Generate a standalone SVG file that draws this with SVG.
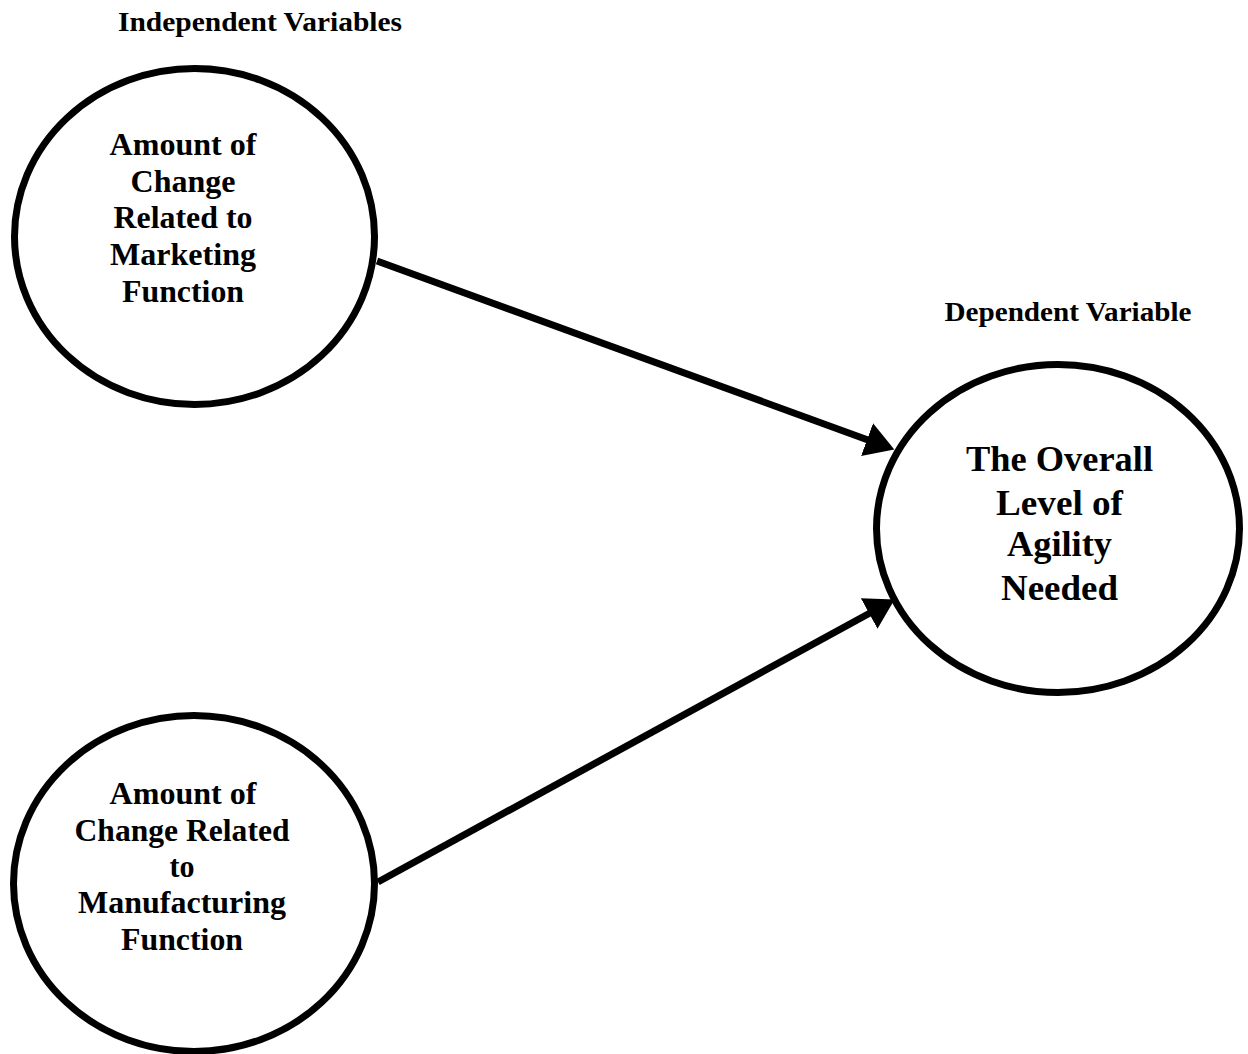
<svg xmlns="http://www.w3.org/2000/svg" width="1248" height="1054" viewBox="0 0 1248 1054">
  <defs>
    <marker id="arrow" markerUnits="userSpaceOnUse" markerWidth="30" markerHeight="36" refX="1" refY="17.5" orient="auto">
      <path d="M0,0 L29,17.5 L0,35 z" fill="#000"/>
    </marker>
    <style>
      .node ellipse { fill: #fff; stroke: #000; stroke-width: 7; }
      text { font-weight: 700; fill: #000; text-anchor: middle; }
      .lbl { font-size: 31px; }
      .big { font-size: 36px; }
      .title { font-size: 28px; }
      .conn line { stroke: #000; stroke-width: 7; }
    </style>
  </defs>
  <rect width="1248" height="1054" fill="#fff"/>

  <g font-family="'Liberation Serif', 'Times New Roman', Tinos, serif">
  <text class="title" x="260" y="31" textLength="284" lengthAdjust="spacingAndGlyphs">Independent Variables</text>
  <text class="title" x="1068" y="321" textLength="247" lengthAdjust="spacingAndGlyphs">Dependent Variable</text>

  <g class="conn" id="connectors">
    <line x1="377" y1="261" x2="868" y2="440" marker-end="url(#arrow)"/>
    <line x1="378" y1="882" x2="870" y2="613" marker-end="url(#arrow)"/>
  </g>

  <g class="node" id="marketing">
    <ellipse cx="194.5" cy="236.5" rx="180" ry="168"/>
    <text class="lbl" x="183" y="155" textLength="147" lengthAdjust="spacingAndGlyphs">Amount of</text>
    <text class="lbl" x="183" y="192" textLength="105" lengthAdjust="spacingAndGlyphs">Change</text>
    <text class="lbl" x="183" y="228" textLength="139" lengthAdjust="spacingAndGlyphs">Related to</text>
    <text class="lbl" x="183" y="265" textLength="146" lengthAdjust="spacingAndGlyphs">Marketing</text>
    <text class="lbl" x="183" y="302" textLength="122" lengthAdjust="spacingAndGlyphs">Function</text>
  </g>

  <g class="node" id="manufacturing">
    <ellipse cx="194" cy="883.5" rx="180.5" ry="168"/>
    <text class="lbl" x="183" y="804" textLength="147" lengthAdjust="spacingAndGlyphs">Amount of</text>
    <text class="lbl" x="182" y="841" textLength="215" lengthAdjust="spacingAndGlyphs">Change Related</text>
    <text class="lbl" x="182" y="877" textLength="25" lengthAdjust="spacingAndGlyphs">to</text>
    <text class="lbl" x="182" y="913" textLength="208" lengthAdjust="spacingAndGlyphs">Manufacturing</text>
    <text class="lbl" x="182" y="950" textLength="122" lengthAdjust="spacingAndGlyphs">Function</text>
  </g>

  <g class="node" id="agility">
    <ellipse cx="1058" cy="528.5" rx="181.5" ry="164"/>
    <text class="big" x="1059.5" y="471" textLength="187" lengthAdjust="spacingAndGlyphs">The Overall</text>
    <text class="big" x="1059.5" y="515" textLength="127" lengthAdjust="spacingAndGlyphs">Level of</text>
    <text class="big" x="1059.5" y="556" textLength="105" lengthAdjust="spacingAndGlyphs">Agility</text>
    <text class="big" x="1059.5" y="600" textLength="117" lengthAdjust="spacingAndGlyphs">Needed</text>
  </g>
  </g>
</svg>
